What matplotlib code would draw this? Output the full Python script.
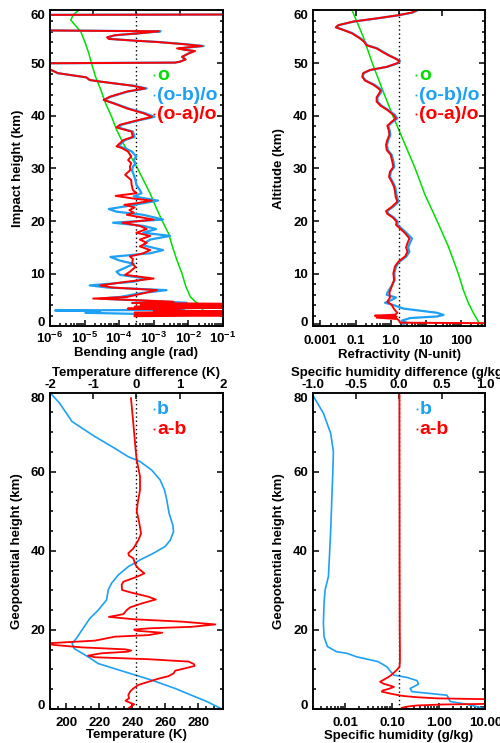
import numpy as np
import matplotlib
matplotlib.use('Agg')
import matplotlib.pyplot as plt
from matplotlib.ticker import FixedLocator, LogLocator, MultipleLocator, NullFormatter

plt.rcParams['font.family'] = ['Liberation Sans', 'DejaVu Sans']
plt.rcParams['font.weight'] = 'bold'
plt.rcParams['mathtext.fontset'] = 'custom'
plt.rcParams['mathtext.rm'] = 'Liberation Sans:bold'
plt.rcParams['mathtext.bf'] = 'Liberation Sans:bold'
plt.rcParams['mathtext.default'] = 'bf'

GREEN = '#00DD00'
BLUE = '#1EA0F5'
RED = '#FF0000'

# ---------------- Top-left: bending angle ----------------
tl_green_km = [60.09, 59.14, 58.19, 56.93, 55.98, 53.76, 51.86, 49.96, 47.43, 44.90, 42.37, 39.84,
               37.31, 34.77, 32.24, 30.34, 27.81, 25.28, 22.75, 20.22, 17.68, 15.15, 12.62, 10.09,
               7.56, 5.66, 4.71, 4.08, 2.81]
tl_green_bend = [6.8e-6, 4.67e-6, 4.0e-6, 5.8e-6, 7.8e-6, 1.06e-5, 1.33e-5, 1.59e-5, 2.08e-5, 2.97e-5,
                 4.06e-5, 6.07e-5, 8.5e-5, 1.32e-4, 2.21e-4, 3.24e-4, 5.05e-4, 7.9e-4, 1.15e-3, 1.72e-3,
                 2.69e-3, 3.52e-3, 4.71e-3, 6.58e-3, 8.59e-3, 1.15e-2, 1.61e-2, 2.24e-2, 2.8e-2]

tl_red_km = [60.0, 59.3, 59.1, 57.3, 56.45, 56.05, 55.7, 55.3, 54.9, 54.6, 54.3, 54.0, 53.6, 53.25,
             53.0, 52.8, 52.55, 52.3, 51.8, 51.2, 50.7, 50.3, 50.1, 49.85, 49.2, 48.8, 48.5, 48.1,
             47.3, 46.8, 46.5, 45.7, 45.2, 44.6, 43.6, 43.0, 42.4, 41.4, 40.5, 39.8, 39.1, 38.3,
             37.8, 37.6, 37.0, 36.0, 35.4, 34.8, 34.2, 33.9, 33.2, 32.3, 31.6, 31.0, 30.3, 29.7,
             28.8, 27.8, 26.9, 25.9, 25.3, 24.8, 24.3, 23.9, 23.4, 23.1, 22.6, 22.1, 21.6, 21.2,
             20.3, 19.7, 19.1, 18.5, 17.8, 17.2, 16.5, 15.9, 15.2, 14.5, 13.9, 13.3, 12.8, 12.0,
             11.3, 10.4, 9.8, 9.1, 8.5, 7.8, 7.4, 6.9, 6.3, 5.6, 5.3, 5.0, 4.7, 4.45, 4.3, 4.15,
             3.95, 3.75, 3.6, 3.4, 3.2, 3.05, 2.85, 2.65, 2.45, 2.25, 2.1, 1.95]
tl_red = [3.0, 3.0, -3.0, -3.0, -3.0, 0.26, 0.05, -0.25, -0.34, -0.32, -0.05, 0.25, 0.55, 0.76,
          0.6, 0.47, 0.55, 0.68, 0.6, 0.53, 0.57, 0.51, 0.45, -2.5, -1.4, -1.0, -0.96, -0.91,
          -0.58, -0.54, -0.42, -0.04, 0.10, -0.11, -0.31, -0.38, -0.27, -0.11, 0.08, 0.18, 0.0, -0.19,
          -0.23, -0.19, -0.055, -0.04, -0.15, -0.19, -0.23, -0.17, -0.095, -0.06, -0.095, -0.06, -0.075, -0.07,
          -0.13, -0.06, -0.055, -0.04, 0.0, -0.24, -0.04, 0.18, 0.0, -0.14, -0.02, -0.08, -0.03, -0.11,
          0.20, -0.16, 0.04, 0.12, 0.0, 0.16, 0.04, 0.12, 0.04, 0.16, 0.08, -0.075, -0.04, -0.05,
          -0.01, -0.075, -0.13, 0.20, -0.11, -0.42, -0.28, 0.24, 0.08, -0.11, -0.50, 0.0, 0.43, -0.05, 1.2, 0.05,
          1.3, -0.02, 1.5, -0.1, 0.5, 0.2, 1.4, -0.02, 1.4, -0.02, 1.3, -0.02]

tl_blue_km = [60.0, 59.3, 59.1, 57.3, 56.45, 56.05, 55.7, 55.3, 54.9, 54.6, 54.3, 54.0, 53.6, 53.25,
              53.0, 52.8, 52.55, 52.3, 51.8, 51.2, 50.7, 50.3, 50.1, 49.85, 49.2, 48.8, 48.5, 48.1,
              47.3, 46.8, 46.5, 45.7, 45.2, 44.6, 43.6, 43.0, 42.4, 41.4, 40.5, 39.8, 39.1, 38.3,
              37.8, 37.6, 37.0, 36.0, 35.4, 34.8, 34.2, 33.9, 33.2, 32.6, 32.3, 31.6, 31.0, 30.3,
              29.7, 28.8, 27.8, 26.9, 25.9, 25.3, 24.7, 23.9, 23.4, 22.9, 22.3, 21.8, 21.2, 20.3,
              19.7, 19.1, 18.5, 17.8, 17.2, 16.5, 16.1, 15.4, 14.5, 13.9, 13.2, 12.5, 11.9, 11.3,
              10.4, 9.8, 9.1, 8.5, 7.8, 7.4, 6.9, 6.3, 5.6, 5.3, 4.9, 4.5, 4.3, 3.8, 3.5, 3.15,
              3.05, 2.9, 2.6, 2.4, 2.15]
tl_blue = [3.0, 3.0, -3.0, -3.0, -3.0, 0.28, 0.06, -0.24, -0.33, -0.31, -0.04, 0.27, 0.57, 0.78,
           0.62, 0.5, 0.57, 0.66, 0.6, 0.53, 0.57, 0.51, 0.45, -2.5, -1.4, -1.0, -0.96, -0.91,
           -0.58, -0.54, -0.42, -0.03, 0.12, -0.10, -0.30, -0.37, -0.26, -0.09, 0.10, 0.21, 0.02, -0.17,
           -0.21, -0.17, -0.04, -0.02, -0.13, -0.17, -0.21, -0.14, -0.05, -0.02, 0.0, -0.03, -0.01, -0.04,
           -0.05, -0.03, -0.01, 0.0, 0.04, 0.06, -0.03, 0.25, 0.08, -0.09, -0.32, -0.23, 0.08, 0.31,
           -0.27, 0.08, 0.23, 0.08, 0.39, 0.16, 0.12, 0.08, 0.31, 0.16, -0.30, -0.19, -0.03, -0.11,
           -0.23, -0.19, 0.12, -0.03, -0.54, -0.34, 0.35, 0.04, -0.19, -0.42, 0.08, 0.58, 0.27, 0.73, 0.04, 0.55,
           -0.94, -0.42, -0.59, -0.03, 0.0]

# ---------------- Top-right: refractivity ----------------
tr_green_km = [60.0, 55.0, 50.0, 45.0, 40.0, 35.0, 30.0, 25.0, 20.2, 15.2, 10.0, 6.9, 4.4, 2.5, 0.9, 0.5]
tr_green_n = [0.08, 0.165, 0.30, 0.58, 1.15, 2.4, 5.0, 9.5, 20.5, 44.0, 85.0, 118.0, 165.0, 230.0, 317.0, 355.0]

tr_red_km = [60.1, 59.6, 59.1, 58.5, 57.9, 57.2, 56.8, 56.3, 55.7, 54.7, 54.1, 53.4, 52.8, 52.2, 51.5,
             50.9, 50.4, 50.0, 49.3, 48.7, 48.1, 47.4, 46.7, 45.9, 45.2, 44.8, 44.3, 43.5, 42.7, 41.9,
             41.1, 40.2, 39.5, 38.9, 38.1, 37.3, 36.4, 35.4, 34.5, 33.5, 32.6, 31.3, 30.3, 29.4, 28.4,
             27.5, 26.5, 25.6, 24.6, 23.7, 22.7, 21.9, 21.4, 20.7, 19.9, 19.3, 18.6, 17.7, 16.7, 15.8,
             15.0, 14.2, 13.3, 12.3, 11.4, 10.1, 8.8, 7.6, 6.4, 5.5, 4.7, 4.1, 3.3, 2.6, 2.24, 2.05,
             1.86, 1.67, 1.42, 1.04, 0.72, 0.6]
tr_red = [0.213, 0.147, -0.008, -0.26, -0.53, -0.705, -0.733, -0.647, -0.55, -0.453, -0.407, -0.376, -0.26, -0.20, -0.124,
          -0.047, 0.004, -0.02, -0.143, -0.337, -0.415, -0.426, -0.395, -0.298, -0.24, -0.213, -0.229, -0.26, -0.26, -0.213,
          -0.136, -0.066, -0.035, -0.085, -0.136, -0.12, -0.112, -0.136, -0.151, -0.143, -0.097, -0.078, -0.066, -0.105, -0.116,
          -0.085, -0.058, -0.047, -0.039, -0.02, -0.085, -0.151, -0.136, -0.074, -0.027, -0.035, 0.012, 0.07, 0.12, 0.097,
          0.081, 0.097, 0.07, -0.008, -0.047, -0.066, -0.058, -0.085, -0.112, -0.105, -0.136, -0.085, -0.058, -0.02, -0.047, -0.28,
          -0.027, -0.26, -0.02, 0.004, 0.012, 1.3]

tr_blue_km = [60.1, 59.6, 59.1, 58.5, 57.9, 57.2, 56.8, 56.3, 55.7, 54.7, 54.1, 53.4, 52.8, 52.2, 51.5,
              50.9, 50.4, 50.0, 49.3, 48.7, 48.1, 47.4, 46.7, 45.9, 45.2, 44.8, 44.3, 43.5, 42.7, 41.9,
              41.1, 40.2, 39.5, 38.9, 38.1, 37.3, 36.4, 35.4, 34.5, 33.5, 32.6, 31.3, 30.3, 29.4, 28.4,
              27.5, 26.5, 25.6, 24.6, 23.7, 22.7, 21.9, 21.4, 20.7, 19.9, 19.3, 18.6, 17.7, 16.7, 15.8,
              15.0, 14.2, 13.3, 12.3, 11.4, 10.1, 8.8, 7.6, 6.4, 6.0, 5.5, 5.0, 4.5, 4.1, 3.4, 3.0,
              2.6, 2.2, 1.9, 1.6, 1.1, 0.7, 0.5]
tr_blue = [0.225, 0.155, 0.0, -0.25, -0.52, -0.70, -0.728, -0.64, -0.54, -0.445, -0.40, -0.368, -0.25, -0.19, -0.115,
           -0.04, 0.012, -0.01, -0.135, -0.33, -0.41, -0.42, -0.385, -0.285, -0.225, -0.198, -0.215, -0.25, -0.25, -0.20,
           -0.125, -0.05, -0.02, -0.07, -0.125, -0.11, -0.10, -0.125, -0.14, -0.13, -0.085, -0.065, -0.055, -0.095, -0.105,
           -0.075, -0.045, -0.035, -0.025, -0.005, -0.07, -0.14, -0.125, -0.06, -0.015, -0.02, 0.03, 0.09, 0.15, 0.125,
           0.105, 0.12, 0.085, 0.005, -0.035, -0.055, -0.05, -0.09, -0.136, -0.143, -0.035, -0.09, -0.163, -0.07, 0.05, 0.244,
           0.44, 0.515, 0.44, 0.128, 0.03, 0.09, 0.05]

# ---------------- Bottom-left: temperature ----------------
bl_blue_km = [80.0, 77.3, 72.7, 68.9, 65.9, 63.8, 62.6, 60.4, 57.9, 55.4, 52.9, 49.5, 46.5, 44.8, 42.7,
              41.1, 39.4, 37.7, 36.0, 33.9, 31.8, 30.1, 27.6, 25.0, 22.9, 20.4, 17.9, 16.6, 15.3, 13.2,
              11.5, 9.4, 7.3, 5.2, 3.1, 1.9, 0.0]
bl_blue_t = [190.0, 195.9, 203.4, 217.3, 229.5, 237.6, 244.7, 251.9, 257.0, 259.6, 261.0, 262.4, 264.7, 265.1, 263.1,
             260.0, 252.9, 244.7, 237.6, 231.5, 227.4, 225.4, 224.4, 219.3, 214.2, 210.1, 206.1, 203.4, 204.7, 213.2,
             219.3, 235.6, 251.9, 266.1, 278.3, 285.4, 294.6]

bl_red_km = [78.6, 72.2, 65.5, 63.0, 58.8, 55.4, 52.0, 50.0, 47.4, 44.4, 42.7, 40.6, 39.4, 38.8, 38.1,
             36.4, 35.5, 34.3, 33.4, 32.2, 31.4, 30.1, 29.4, 28.4, 27.7, 26.7, 25.7, 25.0, 24.0, 23.3,
             22.7, 22.1, 21.4, 20.8, 20.4, 20.1, 19.8, 19.3, 18.7, 18.3, 17.3, 16.6, 16.2, 15.6, 15.1,
             14.8, 14.5, 14.1, 13.5, 13.1, 12.6, 12.0, 11.4, 10.9, 10.3, 9.7, 9.0, 8.3, 7.8, 6.9,
             6.1, 5.2, 4.4, 3.5, 2.7, 2.1, 1.6, 1.2, 0.76, 0.17]
bl_red_dt = [-0.124, -0.07, -0.016, 0.008, 0.085, 0.085, 0.03, 0.01, 0.062, 0.109, 0.047, -0.07, -0.186, -0.17, -0.07,
             -0.016, 0.05, 0.186, 0.0, -0.30, -0.34, -0.33, -0.1, 0.28, 0.45, 0.124, -0.147, -0.225, -0.30, -0.636,
             -0.05, 1.05, 1.83, 1.29, 0.28, -0.05, 0.0, 0.6, 0.28, -0.496, -0.96, -2.1, -1.9, -1.27, -0.26,
             -0.12, -0.2, -0.81, -1.12, -0.96, 0.28, 1.21, 1.33, 1.35, 1.13, 0.90, 0.86, 0.74, 0.55, 0.28,
             0.047, -0.07, -0.147, -0.186, -0.17, -0.25, -0.147, -0.05, -0.11, -0.186]

# ---------------- Bottom-right: specific humidity ----------------
br_blue_km = [79.4, 74.8, 69.7, 65.1, 59.6, 52.9, 45.3, 38.5, 33.5, 30.1, 26.7, 21.7, 18.3, 15.8, 14.5,
              14.1, 13.2, 12.0, 10.7, 9.4, 8.6, 8.0, 7.2, 6.3, 5.2, 4.4, 3.5, 2.7, 1.9, 1.2, 0.6, 0.0]
br_blue_q = [0.002, 0.00339, 0.00486, 0.00555, 0.00538, 0.00513, 0.00486, 0.00456, 0.00434, 0.00368, 0.0035, 0.00339,
             0.0035, 0.00413, 0.0065, 0.0107, 0.0176, 0.050, 0.0776, 0.0945, 0.108, 0.208, 0.341, 0.37, 0.245, 0.267,
             1.5, 1.63, 1.77, 4.05, 6.6, 10.0]

br_red_km = [79.4, 70.0, 60.0, 50.0, 40.0, 30.0, 20.0, 15.0, 12.0, 10.7, 10.0, 9.4, 8.6, 8.0, 7.5, 6.9,
             6.4, 5.9, 5.6, 5.1, 4.7, 4.4, 4.0, 3.6, 3.3, 3.0, 2.7, 2.5, 2.4, 1.5, 1.3, 1.15, 0.9, 0.6,
             0.3, 0.0]
br_red_dq = [0.005, 0.005, 0.005, 0.006, 0.006, 0.007, 0.008, 0.01, 0.01, 0.005, -0.02, -0.05, -0.09, -0.13, -0.17, -0.22,
             -0.18, -0.10, -0.06, -0.12, -0.19, -0.20, -0.12, -0.03, 0.05, 0.2, 0.44, 1.0, 1.5, 1.5, 1.0, 0.5, 0.2, 0.09,
             0.03, 0.02]

# ---------------- figure ----------------
fig = plt.figure(figsize=(5.0, 7.43), dpi=100)
W_L, W_R = 0.1, 0.6254
AW = 0.3454
TOP_B, TOP_H = 0.5606, 0.4253
BOT_B, BOT_H = 0.0457, 0.4258

TICK_FS = 9.5
LAB_FS = 9.5
LEG_FS = 14
SPINE_LW = 1.1


def base_axes(rect):
    ax = fig.add_axes(rect)
    for s in ax.spines.values():
        s.set_linewidth(SPINE_LW)
    ax.tick_params(axis='x', which='both', direction='in', top=False, bottom=True,
                   labelsize=TICK_FS, width=SPINE_LW)
    ax.tick_params(axis='y', which='both', direction='in', left=True, right=True,
                   labelsize=TICK_FS, width=SPINE_LW, pad=3.5)
    ax.tick_params(which='major', length=4)
    ax.tick_params(which='minor', length=2.2)
    return ax


def diff_axes(ax, lim, ticks, labels, title=None):
    axd = ax.twiny()
    axd.set_xlim(*lim)
    axd.set_xticks(ticks)
    axd.set_xticklabels(labels)
    axd.tick_params(axis='x', which='both', direction='in', top=True, bottom=False,
                    labelsize=TICK_FS, width=SPINE_LW, length=4, pad=1.2)
    for s in axd.spines.values():
        s.set_linewidth(SPINE_LW)
    axd.axvline(0, color='k', lw=1.0, ls=(0, (1, 2)))
    if title:
        axd.set_xlabel(title, fontsize=LAB_FS, fontweight='bold', labelpad=2.5)
    return axd


def yaxis_setup(ax, top, step, minor, label, xpos):
    ax.set_ylim(0, top)
    ticks = list(range(0, top + 1, step))
    ax.set_yticks(ticks)
    ax.set_yticklabels([str(t) for t in ticks])
    ax.yaxis.set_minor_locator(MultipleLocator(minor))
    mt = ax.yaxis.get_major_ticks()
    mt[-1].label1.set_verticalalignment('top')
    mt[0].label1.set_verticalalignment('baseline')
    ax.set_ylabel(label, fontsize=LAB_FS, fontweight='bold')
    ax.yaxis.set_label_coords(xpos, 0.5)


def legend(ax, entries, x0, y0, dy):
    for i, (txt, col) in enumerate(entries):
        y = y0 - i * dy
        ax.text(x0, y, txt, color=col, fontsize=LEG_FS, fontweight='bold',
                transform=ax.transAxes, ha='left', va='baseline', zorder=10)
        ax.plot([x0 - 0.018], [y + 0.016], marker='s', ms=1.3, mew=0, color=col,
                transform=ax.transAxes, clip_on=False, zorder=10)


# ---- Top-left ----
ax1 = base_axes([W_L, TOP_B, AW, TOP_H])
ax1.set_xscale('log')
ax1.set_xlim(1e-6, 1e-1)
ax1.xaxis.set_major_locator(FixedLocator([1e-6, 1e-5, 1e-4, 1e-3, 1e-2, 1e-1]))
ax1.set_xticklabels([r'$\mathbf{10^{-6}}$', r'$\mathbf{10^{-5}}$', r'$\mathbf{10^{-4}}$',
                     r'$\mathbf{10^{-3}}$', r'$\mathbf{10^{-2}}$', r'$\mathbf{10^{-1}}$'])
ax1.xaxis.set_minor_locator(LogLocator(base=10, subs=np.arange(2, 10), numticks=50))
ax1.xaxis.set_minor_formatter(NullFormatter())
ax1.tick_params(axis='x', pad=3)
ax1.plot(tl_green_bend, tl_green_km, color=GREEN, lw=1.1)
yaxis_setup(ax1, 60, 10, 2, 'Impact height (km)', -0.152)
ax1.set_xlabel('Bending angle (rad)', fontsize=LAB_FS, fontweight='bold', labelpad=0.5)
ax1d = diff_axes(ax1, (-1, 1), [-0.5, 0, 0.5], [])
ax1d.plot(tl_blue, tl_blue_km, color=BLUE, lw=1.6)
ax1d.plot(tl_red, tl_red_km, color=RED, lw=1.4)
ax1d.set_ylim(0, 60)
legend(ax1d, [('o', GREEN), ('(o-b)/o', BLUE), ('(o-a)/o', RED)], 0.62, 0.78, 0.0625)

# ---- Top-right ----
ax2 = base_axes([W_R, TOP_B, AW, TOP_H])
ax2.set_xscale('log')
ax2.set_xlim(0.006, 500)
ax2.xaxis.set_major_locator(FixedLocator([0.01, 0.1, 1, 10, 100]))
ax2.set_xticklabels(['0.001', '0.1', '1.0', '10', '100'])
ax2.xaxis.set_minor_locator(LogLocator(base=10, subs=np.arange(2, 10), numticks=50))
ax2.xaxis.set_minor_formatter(NullFormatter())
ax2.tick_params(axis='x', pad=6)
ax2.plot(tr_green_n, tr_green_km, color=GREEN, lw=1.1)
yaxis_setup(ax2, 60, 10, 2, 'Altitude (km)', -0.163)
ax2.set_xlabel('Refractivity (N-unit)', fontsize=LAB_FS, fontweight='bold', labelpad=1.5)
ax2d = diff_axes(ax2, (-1, 1), [-0.5, 0, 0.5], [])
ax2d.plot(tr_blue, tr_blue_km, color=BLUE, lw=1.6)
ax2d.plot(tr_red, tr_red_km, color=RED, lw=1.4)
ax2d.set_ylim(0, 60)
legend(ax2d, [('o', GREEN), ('(o-b)/o', BLUE), ('(o-a)/o', RED)], 0.615, 0.78, 0.0625)

# ---- Bottom-left ----
ax3 = base_axes([W_L, BOT_B, AW, BOT_H])
ax3.set_xlim(190, 295)
ax3.set_xticks([200, 220, 240, 260, 280])
ax3.xaxis.set_minor_locator(MultipleLocator(5))
ax3.tick_params(axis='x', pad=6)
ax3.plot(bl_blue_t, bl_blue_km, color=BLUE, lw=1.2)
yaxis_setup(ax3, 80, 20, 5, 'Geopotential height (km)', -0.154)
ax3.set_xlabel('Temperature (K)', fontsize=LAB_FS, fontweight='bold', labelpad=0)
ax3d = diff_axes(ax3, (-2, 2), [-2, -1, 0, 1, 2], ['-2', '-1', '0', '1', '2'],
                 'Temperature difference (K)')
ax3d.plot(bl_red_dt, bl_red_km, color=RED, lw=1.3)
ax3d.set_ylim(0, 80)
legend(ax3d, [('b', BLUE), ('a-b', RED)], 0.62, 0.932, 0.063)

# ---- Bottom-right ----
ax4 = base_axes([W_R, BOT_B, AW, BOT_H])
ax4.set_xscale('log')
ax4.set_xlim(0.002, 10)
ax4.xaxis.set_major_locator(FixedLocator([0.01, 0.1, 1, 10]))
ax4.set_xticklabels(['0.01', '0.10', '1.00', '10.00'])
ax4.xaxis.set_minor_locator(LogLocator(base=10, subs=np.arange(2, 10), numticks=50))
ax4.xaxis.set_minor_formatter(NullFormatter())
ax4.tick_params(axis='x', pad=6)
ax4.plot(br_blue_q, br_blue_km, color=BLUE, lw=1.2)
yaxis_setup(ax4, 80, 20, 5, 'Geopotential height (km)', -0.163)
ax4.set_xlabel('Specific humidity (g/kg)', fontsize=LAB_FS, fontweight='bold', labelpad=0.5)
ax4d = diff_axes(ax4, (-1, 1), [-1, -0.5, 0, 0.5, 1], ['-1.0', '-0.5', '0.0', '0.5', '1.0'],
                 'Specific humidity difference (g/kg)')
ax4d.plot(br_red_dq, br_red_km, color=RED, lw=1.3)
ax4d.set_ylim(0, 80)
legend(ax4d, [('b', BLUE), ('a-b', RED)], 0.62, 0.932, 0.063)

fig.savefig('out.png', dpi=100)
